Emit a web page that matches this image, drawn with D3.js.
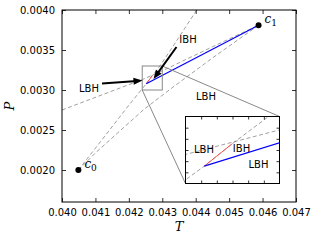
<!DOCTYPE html>
<html>
<head>
<meta charset="utf-8">
<script src="https://cdn.jsdelivr.net/npm/d3@7"></script>
<style>
  body { margin: 0; background: #fff; }
  text { font-family: "DejaVu Sans", sans-serif; }
</style>
</head>
<body>
<svg id="chart"></svg>
<script>
// tick values
const xTicks = [0.040, 0.041, 0.042, 0.043, 0.044, 0.045, 0.046, 0.047];
const yTicks = [0.0020, 0.0025, 0.0030, 0.0035, 0.0040];
const insetXTicks = [0.0425, 0.0426, 0.0427, 0.0428, 0.0429];
const insetYTicks = [0.00305, 0.00310, 0.00315, 0.00320, 0.00325];

// critical points (T, P)
const critNames = ["0", "1"];
const critT = [0.04049, 0.04588];
const critP = [0.00200, 0.00381];

// coexistence lines
const blueT = [0.04252, 0.04588];
const blueP = [0.003078, 0.00381];
const redT = [0.04252, 0.04270];
const redP = [0.003078, 0.003179];

// dashed curves
const dashA_T = [0.04049, 0.04120, 0.04200, 0.04252, 0.04270, 0.04293, 0.04350, 0.04403];
const dashA_P = [0.00200, 0.00238, 0.00281, 0.003078, 0.003179, 0.00330, 0.00366, 0.00400];
const dashB_T = [0.04049, 0.04099, 0.04243, 0.04330, 0.04450, 0.04588];
const dashB_P = [0.00200, 0.00221, 0.00275, 0.00303, 0.00340, 0.00381];
const dashC_T = [0.04000, 0.04240, 0.04300, 0.04450, 0.04588];
const dashC_P = [0.00275, 0.00313, 0.00324, 0.00354, 0.00381];

const W = 316, H = 240;
const svg = d3.select("#chart").attr("width", W).attr("height", H);

const x = d3.scaleLinear().domain([0.040, 0.047]).range([62, 296]);
const y = d3.scaleLinear().domain([0.0016, 0.0040]).range([202, 10]);

// inset window in data space and on the page
const zoomT = [0.0424, 0.0430], zoomP = [0.0030, 0.0033];
const xi = d3.scaleLinear().domain(zoomT).range([185.5, 279.5]);
const yi = d3.scaleLinear().domain(zoomP).range([183.5, 116.5]);

const zip = (a, b) => a.map((v, i) => [v, b[i]]);

svg.append("defs").append("clipPath").attr("id", "mainClip")
  .append("rect").attr("x", 62).attr("y", 10).attr("width", 234).attr("height", 192);
svg.select("defs").append("clipPath").attr("id", "insetClip")
  .append("rect").attr("x", 185.5).attr("y", 116.5).attr("width", 94).attr("height", 67);

function drawCurves(g, sx, sy) {
  const line = d3.line().x(d => sx(d[0])).y(d => sy(d[1]));
  [zip(dashA_T, dashA_P), zip(dashB_T, dashB_P), zip(dashC_T, dashC_P)].forEach(c => {
    g.append("path").attr("d", line(c))
      .attr("fill", "none").attr("stroke", "#777").attr("stroke-width", 0.7)
      .attr("stroke-dasharray", "4,2.5");
  });
  g.append("path").attr("d", line(zip(redT, redP)))
    .attr("fill", "none").attr("stroke", "#ff3030").attr("stroke-width", 0.8);
  g.append("path").attr("d", line(zip(blueT, blueP)))
    .attr("fill", "none").attr("stroke", "#0000ff").attr("stroke-width", 1.2);
}

// main plot
const main = svg.append("g").attr("clip-path", "url(#mainClip)");
drawCurves(main, x, y);

main.selectAll("circle").data(critT).enter().append("circle")
  .attr("cx", d => x(d)).attr("cy", (d, i) => y(critP[i])).attr("r", 3).attr("fill", "#000");

// critical point labels
critT.forEach((t, i) => {
  const tx = svg.append("text").attr("x", x(t) + 6).attr("y", y(critP[i]) - 2)
    .style("font-family", "DejaVu Serif, serif").style("font-style", "italic").style("font-size", "12px");
  tx.append("tspan").text("c");
  tx.append("tspan").attr("dy", 3).style("font-size", "9px").style("font-style", "normal").text(critNames[i]);
});

// axes
const axisStyle = g => {
  g.select(".domain").remove();
  g.selectAll("line").attr("stroke", "#000").attr("stroke-width", 0.8);
  g.selectAll("text").style("font-family", "DejaVu Sans").style("font-size", "10px").attr("fill", "#000");
};
svg.append("g").attr("transform", "translate(0,202)")
  .call(d3.axisBottom(x).tickValues(xTicks).tickFormat(d3.format(".3f")).tickSize(-4).tickPadding(7))
  .call(axisStyle);
svg.append("g").attr("transform", "translate(0,10)")
  .call(d3.axisTop(x).tickValues(xTicks).tickFormat("").tickSize(-4))
  .call(axisStyle);
svg.append("g").attr("transform", "translate(62,0)")
  .call(d3.axisLeft(y).tickValues(yTicks).tickFormat(d3.format(".4f")).tickSize(-4).tickPadding(7))
  .call(axisStyle);
svg.append("g").attr("transform", "translate(296,0)")
  .call(d3.axisRight(y).tickValues(yTicks).tickFormat("").tickSize(-4))
  .call(axisStyle);
svg.append("rect").attr("x", 62).attr("y", 10).attr("width", 234).attr("height", 192)
  .attr("fill", "none").attr("stroke", "#000").attr("stroke-width", 1);

// axis titles
svg.append("text").attr("x", 179).attr("y", 231).attr("text-anchor", "middle")
  .style("font-family", "DejaVu Serif, serif").style("font-style", "italic").style("font-size", "13px").text("T");
svg.append("text").attr("transform", "translate(14,106) rotate(-90)").attr("text-anchor", "middle")
  .style("font-family", "DejaVu Serif, serif").style("font-style", "italic").style("font-size", "13px").text("P");

// zoom rectangle and connectors
const rx0 = x(zoomT[0]), rx1 = x(zoomT[1]), ry0 = y(zoomP[1]), ry1 = y(zoomP[0]);
svg.append("rect").attr("x", rx0).attr("y", ry0).attr("width", rx1 - rx0).attr("height", ry1 - ry0)
  .attr("fill", "none").attr("stroke", "#888").attr("stroke-width", 1);
svg.append("line").attr("x1", rx1).attr("y1", ry0).attr("x2", xi.range()[1]).attr("y2", yi.range()[1])
  .attr("stroke", "#888").attr("stroke-width", 1);
svg.append("line").attr("x1", rx0).attr("y1", ry1).attr("x2", xi.range()[0]).attr("y2", yi.range()[0])
  .attr("stroke", "#888").attr("stroke-width", 1);

// arrows
function arrow(x0, y0, x1, y1) {
  const dx = x1 - x0, dy = y1 - y0, L = Math.hypot(dx, dy);
  const ux = dx / L, uy = dy / L, nx = -uy, ny = ux;
  const hl = 9, hw = 3.5, sw = 1;
  const bx = x1 - ux * hl, by = y1 - uy * hl;
  const pts = [
    [x0 + nx * sw, y0 + ny * sw], [bx + nx * sw, by + ny * sw], [bx + nx * hw, by + ny * hw],
    [x1, y1], [bx - nx * hw, by - ny * hw], [bx - nx * sw, by - ny * sw], [x0 - nx * sw, y0 - ny * sw]
  ];
  svg.append("polygon").attr("points", pts.map(p => p.join(",")).join(" ")).attr("fill", "#000");
}
arrow(102, 83.5, 142.5, 80.5);
arrow(176.5, 47, 153.5, 79);

const label = (tx, ty, s) => svg.append("text").attr("x", tx).attr("y", ty).attr("text-anchor", "middle")
  .style("font-size", "10px").attr("fill", "#000").text(s);
label(89, 91.5, "LBH");
label(188, 43, "IBH");
label(206, 99.5, "LBH");

// inset
svg.append("rect").attr("x", 185.5).attr("y", 116.5).attr("width", 94).attr("height", 67).attr("fill", "#fff");
const inset = svg.append("g").attr("clip-path", "url(#insetClip)");
drawCurves(inset, xi, yi);

svg.append("g").attr("transform", "translate(0,183.5)")
  .call(d3.axisBottom(xi).tickValues(insetXTicks).tickFormat("").tickSize(-3)).call(axisStyle);
svg.append("g").attr("transform", "translate(0,116.5)")
  .call(d3.axisTop(xi).tickValues(insetXTicks).tickFormat("").tickSize(-3)).call(axisStyle);
svg.append("g").attr("transform", "translate(185.5,0)")
  .call(d3.axisLeft(yi).tickValues(insetYTicks).tickFormat("").tickSize(-3)).call(axisStyle);
svg.append("g").attr("transform", "translate(279.5,0)")
  .call(d3.axisRight(yi).tickValues(insetYTicks).tickFormat("").tickSize(-3)).call(axisStyle);
svg.append("rect").attr("x", 185.5).attr("y", 116.5).attr("width", 94).attr("height", 67)
  .attr("fill", "none").attr("stroke", "#000").attr("stroke-width", 1);

label(204, 153, "LBH");
label(241.5, 152, "IBH");
label(258.5, 168, "LBH");
</script>
</body>
</html>
